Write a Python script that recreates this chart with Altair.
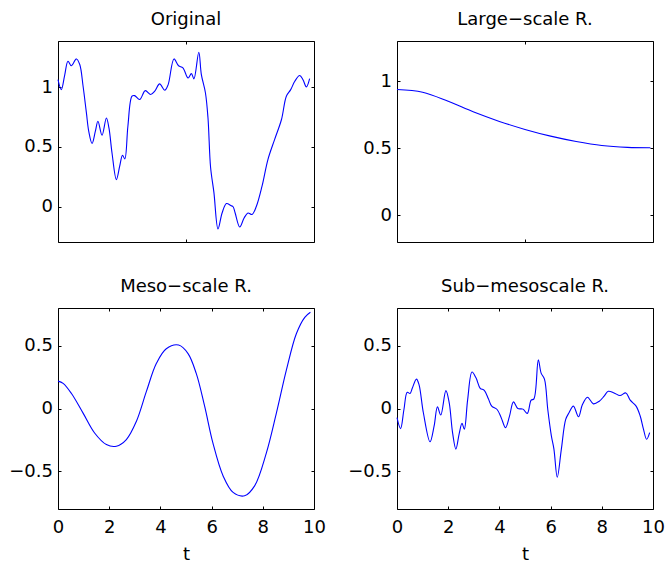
import altair as alt
import pandas as pd

# ---- data ----
orig_t = [0.00, 0.13, 0.26, 0.39, 0.52, 0.72, 0.85, 0.98, 1.11, 1.20, 1.33, 1.46, 1.56, 1.72, 1.89, 1.99,
          2.11, 2.28, 2.41, 2.52, 2.61, 2.73, 2.89, 2.99, 3.19, 3.41, 3.62, 3.78, 3.97, 4.17, 4.30, 4.53,
          4.71, 4.88, 5.08, 5.21, 5.31, 5.50, 5.60, 5.76, 5.86, 5.96, 6.09, 6.25, 6.41, 6.58, 6.75, 6.84,
          6.92, 7.10, 7.27, 7.42, 7.58, 7.75, 7.97, 8.20, 8.46, 8.73, 8.92, 9.09, 9.25, 9.44, 9.57, 9.70, 9.83]
orig_v = [1.064, 0.98, 1.10, 1.218, 1.18, 1.237, 1.19, 1.008, 0.785, 0.632, 0.529, 0.632, 0.716, 0.598, 0.743, 0.66,
          0.45, 0.227, 0.339, 0.431, 0.40, 0.674, 0.925, 0.93, 0.897, 0.972, 0.939, 0.967, 1.028, 0.975, 1.02, 1.237,
          1.18, 1.162, 1.078, 1.114, 1.07, 1.293, 1.106, 0.952, 0.74, 0.33, 0.12, -0.186, -0.052, 0.027, 0.01, 0.0,
          -0.052, -0.169, -0.094, -0.052, -0.065, 0.004, 0.172, 0.395, 0.562, 0.73, 0.925, 0.98, 1.05, 1.098, 1.063, 1.003, 1.073]

large_t = [0.0, 1.0, 2.0, 3.0, 4.0, 5.0, 6.0, 7.0, 8.0, 9.0, 9.9]
large_v = [0.938, 0.918, 0.850, 0.770, 0.700, 0.640, 0.590, 0.550, 0.520, 0.506, 0.503]

meso_t = [0.00, 0.20, 0.52, 0.98, 1.43, 1.89, 2.28, 2.67, 3.06, 3.45, 3.84, 4.23, 4.71, 5.08, 5.40, 5.73,
          6.05, 6.45, 6.84, 7.29, 7.68, 8.14, 8.53, 8.92, 9.31, 9.64, 9.86]
meso_v = [0.218, 0.20, 0.121, -0.037, -0.195, -0.287, -0.30, -0.247, -0.103, 0.134, 0.358, 0.476, 0.505, 0.437, 0.279, 0.016,
          -0.274, -0.537, -0.668, -0.695, -0.616, -0.353, -0.037, 0.305, 0.595, 0.726, 0.766]

sub_t = [0.00, 0.14, 0.27, 0.40, 0.51, 0.60, 0.76, 0.86, 1.03, 1.29, 1.45, 1.58, 1.71, 1.91, 2.04, 2.17,
         2.30, 2.43, 2.54, 2.63, 2.76, 2.93, 3.09, 3.25, 3.41, 3.57, 3.70, 3.91, 4.07, 4.24, 4.39, 4.55,
         4.72, 4.92, 5.09, 5.24, 5.35, 5.52, 5.63, 5.76, 5.89, 6.03, 6.13, 6.26, 6.42, 6.59, 6.72, 6.89,
         7.09, 7.24, 7.44, 7.67, 7.90, 8.09, 8.25, 8.48, 8.71, 8.94, 9.11, 9.34, 9.50, 9.63, 9.75, 9.87]
sub_v = [-0.073, -0.16, -0.01, 0.129, 0.12, 0.163, 0.234, 0.19, -0.034, -0.265, -0.139, 0.013, -0.052, 0.142, 0.045, -0.192,
         -0.323, -0.20, -0.118, -0.165, 0.071, 0.29, 0.242, 0.161, 0.145, 0.077, 0.019, -0.008, -0.073, -0.152, -0.065, 0.053,
         0.0, -0.005, -0.039, 0.066, 0.077, 0.387, 0.282, 0.234, -0.008, -0.218, -0.323, -0.547, -0.323, -0.087, -0.034, 0.019,
         -0.066, 0.029, 0.09, 0.037, 0.058, 0.098, 0.137, 0.124, 0.103, 0.124, 0.066, 0.019, -0.06, -0.166, -0.245, -0.192]

titles = ["Original", "Large\u2212scale R.", "Meso\u2212scale R.", "Sub\u2212mesoscale R."]
y_domains = [[-0.295, 1.387], [-0.2, 1.3], [-0.8, 0.8], [-0.8, 0.8]]
y_ticks = [[0, 0.5, 1], [0, 0.5, 1], [-0.5, 0, 0.5], [-0.5, 0, 0.5]]
x_ticks_top = [0, 5, 10]
x_ticks_bottom = [0, 2, 4, 6, 8, 10]

FONT = "DejaVu Sans"
FS = 18
W, H = 256, 201
TICK = 3


def panel(ts, vs, title, ydom, yticks, bottom):
    df = pd.DataFrame({"t": ts, "v": vs})
    xticks = x_ticks_bottom if bottom else x_ticks_top
    base = alt.Chart(df)
    xa1 = alt.Axis(orient="bottom", values=xticks, labels=bottom, format="d",
                   tickSize=TICK, offset=-TICK, labelPadding=9.3,
                   labelFlush=False, labelOverlap=False,
                   title="t" if bottom else None, titleBaseline="alphabetic",
                   titleY=53, titleFont=FONT, titleFontSize=FS, titleFontWeight="normal",
                   titleColor="black")
    ya1 = alt.Axis(orient="left", values=yticks, format="~g", tickSize=TICK, offset=-TICK,
                   labelPadding=5.5, labelOverlap=False, title=None)
    l1 = base.mark_line(color="#0000ff", strokeWidth=1.1, interpolate="catmull-rom").encode(
        x=alt.X("t:Q", scale=alt.Scale(domain=[0, 10], nice=False, zero=False), axis=xa1),
        y=alt.Y("v:Q", scale=alt.Scale(domain=ydom, nice=False, zero=False), axis=ya1),
    )
    xa2 = alt.Axis(orient="top", values=xticks, labels=False, tickSize=TICK, offset=-TICK, title=None)
    ya2 = alt.Axis(orient="right", values=yticks, labels=False, tickSize=TICK, offset=-TICK, title=None)
    l2 = base.mark_line(opacity=0).encode(
        x=alt.X("t:Q", axis=xa2),
        y=alt.Y("v:Q", axis=ya2),
    )
    return alt.layer(l1, l2).resolve_axis(x="independent", y="independent").properties(
        width=W, height=H,
        title=alt.TitleParams(text=title, font=FONT, fontSize=FS, fontWeight="normal", color="black",
                              anchor="middle", baseline="alphabetic", offset=-2),
    )


p1 = panel(orig_t, orig_v, titles[0], y_domains[0], y_ticks[0], False)
p2 = panel(large_t, large_v, titles[1], y_domains[1], y_ticks[1], False)
p3 = panel(meso_t, meso_v, titles[2], y_domains[2], y_ticks[2], True)
p4 = panel(sub_t, sub_v, titles[3], y_domains[3], y_ticks[3], True)

chart = alt.concat(p1, p2, p3, p4, columns=2, spacing={"row": 66, "column": 83}, bounds="flush").properties(
    padding={"left": 8, "top": 10, "right": 0, "bottom": 0},
    background="white",
).configure_view(stroke="black", strokeWidth=1).configure_axis(
    domain=False, grid=False, tickColor="black", tickWidth=1,
    labelFont=FONT, labelFontSize=FS, labelColor="black",
)

chart.save("out.html", embed_options={"renderer": "svg", "actions": False})
